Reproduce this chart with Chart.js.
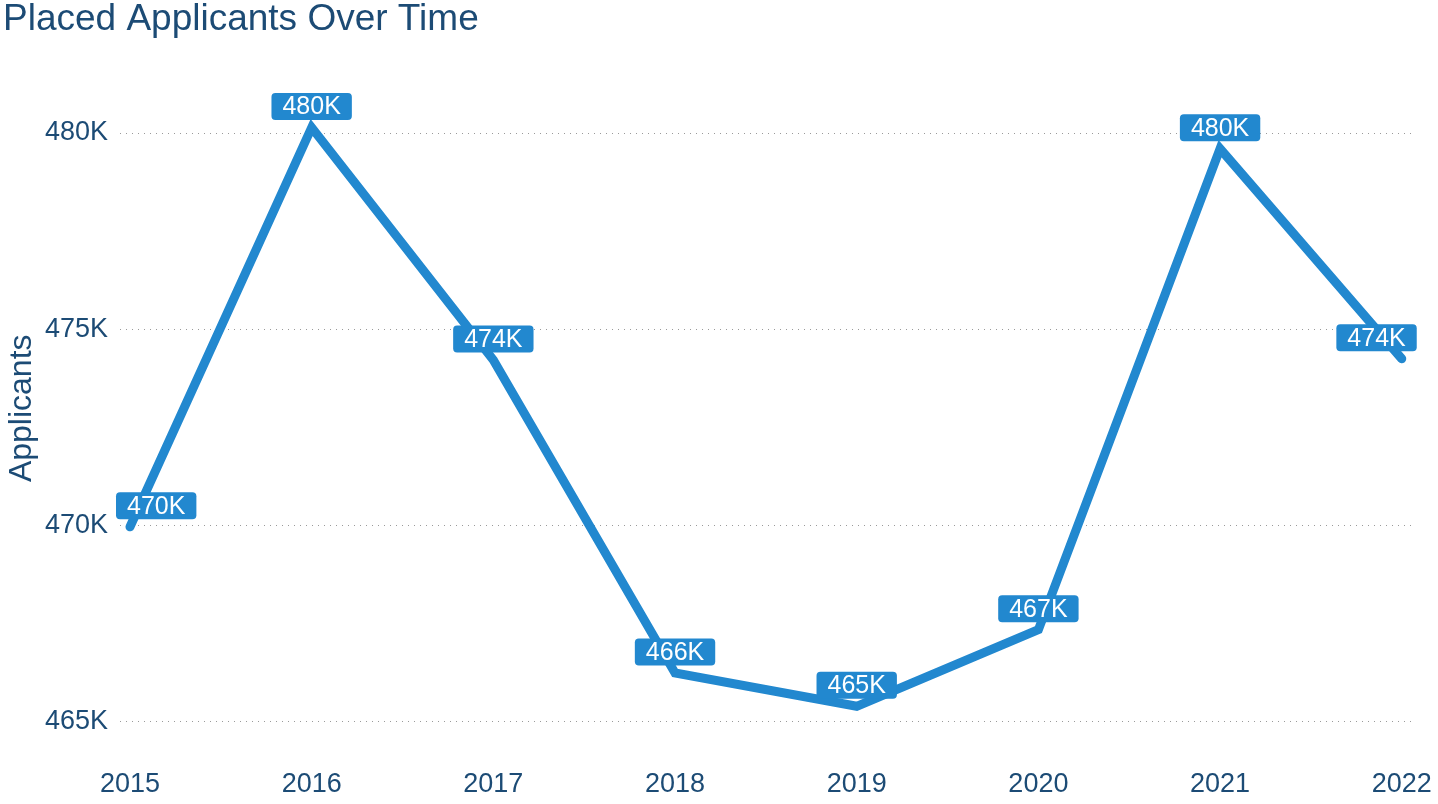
<!DOCTYPE html>
<html>
<head>
<meta charset="utf-8">
<title>Placed Applicants Over Time</title>
<script src="https://cdn.jsdelivr.net/npm/chart.js@4"></script>
<style>
  html, body { margin: 0; padding: 0; background: #fff; }
  #wrap { width: 1438px; height: 804px; position: relative; }
</style>
</head>
<body>
<div id="wrap"><canvas id="chart"></canvas></div>
<script>
'use strict';

// data (applicants)
const years = [2015, 2016, 2017, 2018, 2019, 2020, 2021, 2022];
const applicants = [469970, 480140, 474220, 466250, 465400, 467350, 479600, 474250];
const yTicks = [465000, 470000, 475000, 480000];

const navy = '#1c4b75';
const blue = '#2288cf';
const fontFamily = '"Liberation Sans", Arial, sans-serif';

let fmtK = (v) => Math.round(v / 1000) + 'K';

// boxed value labels over each point
let valueLabels = {
	id: 'valueLabels',
	afterDatasetsDraw(chart) {
		let ctx = chart.ctx;
		let area = chart.chartArea;
		let meta = chart.getDatasetMeta(0);
		ctx.save();
		ctx.font = '25px ' + fontFamily;
		ctx.textAlign = 'center';
		ctx.textBaseline = 'middle';
		meta.data.forEach((pt, i) => {
			let text = fmtK(applicants[i]);
			let w = ctx.measureText(text).width + 22;
			let h = 27;
			let cx = pt.x;
			cx = Math.max(cx, area.left - 4 + w / 2);
			cx = Math.min(cx, area.right + 1 - w / 2);
			let cy = pt.y - 21;
			ctx.fillStyle = blue;
			ctx.beginPath();
			ctx.roundRect(cx - w / 2, cy - h / 2, w, h, 4);
			ctx.fill();
			ctx.fillStyle = '#fff';
			ctx.fillText(text, cx, cy + 1);
		});
		ctx.restore();
	}
};

let points = years.map((yr, i) => ({ x: yr, y: applicants[i] }));

new Chart(document.getElementById('chart'), {
	type: 'line',
	data: {
		datasets: [{
			data: points,
			borderColor: blue,
			borderWidth: 9,
			borderCapStyle: 'round',
			borderJoinStyle: 'miter',
			pointRadius: 0,
			tension: 0,
			fill: false
		}]
	},
	options: {
		responsive: true,
		maintainAspectRatio: false,
		animation: false,
		layout: { padding: { left: 3, right: 19, top: 0, bottom: -3 } },
		plugins: {
			legend: { display: false },
			tooltip: { enabled: false },
			title: {
				display: true,
				text: 'Placed Applicants Over Time',
				align: 'start',
				color: navy,
				font: { family: fontFamily, size: 37, weight: 'normal', lineHeight: 1 },
				padding: { top: 1, bottom: 16 }
			}
		},
		scales: {
			x: {
				type: 'linear',
				min: 2014.9451,
				max: 2022.0769,
				afterBuildTicks: (scale) => { scale.ticks = years.map((v) => ({ value: v })); },
				grid: { display: false, drawTicks: false },
				border: { display: false },
				ticks: {
					color: navy,
					padding: 6,
					autoSkip: false,
					maxRotation: 0,
					font: { family: fontFamily, size: 27 },
					callback: (v) => String(v)
				}
			},
			y: {
				min: 463966,
				max: 482012,
				afterBuildTicks: (scale) => { scale.ticks = yTicks.map((v) => ({ value: v })); },
				afterFit: (scale) => { scale.width = 117; },
				grid: { color: '#9a9a9a', lineWidth: 1, drawTicks: false },
				border: { display: false, dash: [1, 5] },
				ticks: {
					color: navy,
					padding: 12,
					font: { family: fontFamily, size: 27 },
					callback: (v) => fmtK(v)
				},
				title: {
					display: true,
					text: 'Applicants',
					color: navy,
					padding: { top: 0, bottom: 0 },
					font: { family: fontFamily, size: 32, weight: 'normal' }
				}
			}
		}
	},
	plugins: [valueLabels]
});
</script>
</body>
</html>
